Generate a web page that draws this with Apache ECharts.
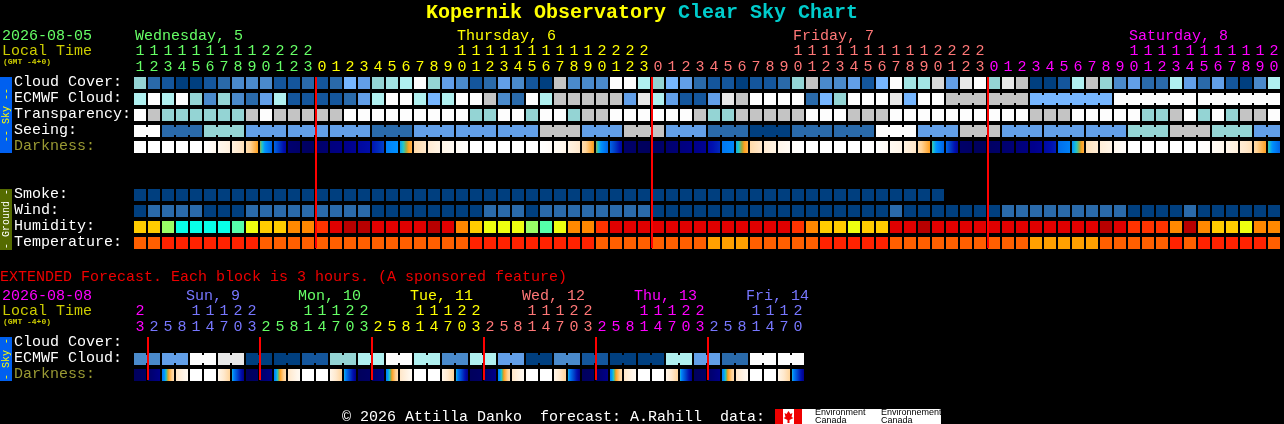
<!DOCTYPE html>
<html>
<head>
<meta charset="utf-8">
<style>html,body{margin:0;padding:0;background:#000;overflow:hidden}#c{width:1284px;height:424px}</style>
<script src="https://cdn.jsdelivr.net/npm/echarts@6/dist/echarts.min.js"></script>
</head>
<body>
<div id="c"></div>
<script>
// ---------- hours ----------
const mainHours = [11,12,13,14,15,16,17,18,19,20,21,22,23,
  0,1,2,3,4,5,6,7,8,9,10,11,12,13,14,15,16,17,18,19,20,21,22,23,
  0,1,2,3,4,5,6,7,8,9,10,11,12,13,14,15,16,17,18,19,20,21,22,23,
  0,1,2,3,4,5,6,7,8,9,10,11,12,13,14,15,16,17,18,19,20];
const extHours = [23,
  2,5,8,11,14,17,20,23, 2,5,8,11,14,17,20,23, 2,5,8,11,14,17,20,23,
  2,5,8,11,14,17,20,23, 2,5,8,11,14,17,20,23, 2,5,8,11,14,17,20];
const mainDayColors = ['#66ff66','#ffff00','#ff7777','#ff00ff'];
const extDayColors = ['#ff00ff','#7777ff','#66ff66','#ffff00','#ff7777','#ff00ff','#7777ff'];
const mainDayLabels = ['Wednesday, 5','Thursday, 6','Friday, 7','Saturday, 8'];
const extDayLabels = ['Sun, 9','Mon, 10','Tue, 11','Wed, 12','Thu, 13','Fri, 14'];
const mainDayLabelCells = [0,23,47,71];
const extDayLabelCells = [3.64,11.64,19.64,27.64,35.64,43.64];
const mainRowNames = ['Cloud Cover:','ECMWF Cloud:','Transparency:','Seeing:','Darkness:','','','Smoke:','Wind:','Humidity:','Temperature:'];
const extRowNames = ['Cloud Cover:','ECMWF Cloud:','Darkness:'];

// ---------- sky level palette ----------
const skyPalette = ['#003f7f','#14569c','#2a6aaa','#4a8acb','#629fe8','#76b6ff','#94d4d4','#a2e4e4','#b0f0f0','#fdfdfd','#e8e8e8','#d8d8d8','#c4c4c4'];

// ---------- main rows ----------
const cloudCover = [6,2,1,0,0,1,2,3,3,3,1,1,2,1,2,5,4,6,7,8,9,6,4,3,1,2,4,3,1,0,12,3,3,3,9,9,8,6,5,4,2,1,1,0,1,1,2,6,12,3,3,4,1,5,9,7,7,11,4,10,9,6,10,12,0,0,1,8,12,6,3,4,2,2,8,4,2,4,1,0,3,8];
const ecmwfCloud = [8,9,8,9,6,3,6,3,2,4,8,1,1,1,1,2,4,8,9,9,8,5,8,9,9,12,3,2,9,8,12,12,12,12,12,4,10,8,4,1,1,4,10,12,9,9,9,9,2,5,6,9,9,9,10,5,9,9,12,12,12,12,12,12,5,5,5,5,5,5,9,9,9,9,9,9,9,9,9,9,9,9];
const ecmwfRunStarts = [58,61,64,70,76];
const ecmwfRunLengths = [3,3,6,6,6];
const transparency = [9,12,6,6,6,6,6,6,12,9,12,12,12,12,12,9,9,9,9,9,9,9,9,9,6,6,9,9,6,9,9,6,12,12,9,9,9,9,9,9,12,6,6,12,12,12,12,12,9,9,9,12,12,12,9,9,9,9,9,9,9,9,9,9,12,12,12,9,9,9,9,9,6,6,12,9,6,9,6,12,12,9];
const seeingBlocks = [9,2,6,4,4,4,2,4,4,4,12,4,12,4,2,0,2,2,9,4,12,4,4,4,6,12,6,4];
const seeingBlockLengths = [2,3,3,3,3,3,3,3,3,3,3,3,3,3,3,3,3,3,3,3,3,3,3,3,3,3,3,2];
const darkStart = [-4,-4,-4,-4,-4,-4,-3.2,-2.6,-1.4,0.05,1.6,5.5,6,5.8,5,4.6,4,3.4,1,0.6,-1.3,-2.2,-2.9,-3.5,-4,-4,-4,-4,-4,-4,-3.5,-2.8,-1.4,0.05,1.6,5.8,6.2,6,5.6,5,4.6,3.8,1.2,0.5,-1.3,-2.2,-3,-3.7,-4,-4,-4,-4,-4,-4,-3.4,-2.7,-1.3,0.2,1.6,5.8,6.3,6,5.6,5.2,4.6,3.9,1.4,0.7,-1.6,-2.4,-3.2,-4,-4,-4,-4,-4,-4,-3.5,-3,-2.3,-1.2,0.2];
const darkEnd = [-4,-4,-4,-4,-4,-3.2,-2.6,-1.6,-0.2,1.6,4,5.8,6.2,5.5,4.8,4.3,3.7,2.5,0.7,-0.5,-2,-2.8,-3.4,-3.9,-4,-4,-4,-4,-4,-3.6,-3,-2,-0.1,1.6,4,5.9,6.3,5.8,5.3,4.7,4.3,3,0.9,-0.5,-2,-2.8,-3.5,-4,-4,-4,-4,-4,-4,-3.5,-2.9,-1.9,-0.2,1.6,4.2,6,6.3,5.8,5.3,4.9,4.3,3.2,1,-0.4,-2.2,-2.9,-3.7,-4,-4,-4,-4,-4,-3.8,-3.1,-2.5,-1.6,-0.2,1.6];
const smoke = [0,0,0,0,0,0,0,0,0,0,0,0,0,0,0,0,0,0,0,0,0,0,0,0,0,0,0,0,0,0,0,0,0,0,0,0,0,0,0,0,0,0,0,0,0,0,0,0,0,0,0,0,0,0,0,0,0,0];
const wind = [0,2,2,2,2,0,0,0,2,2,2,2,2,2,2,2,2,0,0,0,0,0,0,0,0,2,2,2,0,2,2,2,2,2,2,2,2,0,0,0,0,0,0,0,0,0,0,0,0,0,0,0,0,0,2,0,0,0,0,0,0,0,2,2,2,2,2,2,2,2,2,0,0,0,0,2,0,0,0,0,0,0];
const humidityPalette = ['#b80000','#e00000','#ff3300','#ff8800','#ffcc00','#eeff10','#99ff66','#55ffaa','#08ffe8'];
const humidity = [4,4,6,8,8,8,8,7,5,4,4,3,3,2,1,0,0,1,1,1,1,0,1,3,4,5,5,5,6,7,5,3,3,2,1,1,1,1,1,1,1,1,1,1,1,1,1,2,3,4,4,5,4,4,1,1,0,1,1,1,1,1,1,1,1,1,1,1,1,0,1,2,2,2,3,0,3,4,4,5,3,3];
const temperaturePalette = ['#ff2200','#ff5f00','#ffa000'];
const temperature = [1,1,0,0,0,0,0,0,0,1,1,1,1,1,1,1,1,1,1,1,1,1,1,1,0,0,0,0,0,0,0,0,0,1,1,1,1,1,1,1,1,2,2,2,1,1,1,1,1,0,0,0,0,0,1,1,1,1,1,1,1,1,1,1,2,2,2,2,2,1,1,1,1,1,0,1,0,0,0,0,0,1];

// ---------- extended rows ----------
const extEcmwfBlocks = [3,4,9,10,0,0,1,6,8,9,8,3,8,4,0,3,1,0,0,8,4,2,9,9];
const extBlockLengths = [2,2,2,2,2,2,2,2,2,2,2,2,2,2,2,2,2,2,2,2,2,2,2,2];
const extDarkStart = [6.3,5.8,1.2,-1.9,-4,-4,-3,0.4, 6.3,5.8,1.0,-1.9,-4,-4,-3,0.4, 6.3,5.8,1.0,-1.9,-4,-4,-3,0.4, 6.3,5.8,1.0,-1.9,-4,-4,-3,0.4, 6.3,5.8,1.0,-1.9,-4,-4,-3,0.4, 6.3,5.8,1.0,-1.9,-4,-4,-3,0.4];
const extDarkEnd = [6.0,4.6,-1.4,-3.4,-4,-4,-1,4.6, 6.0,4.6,-1.4,-3.4,-4,-4,-1,4.6, 6.0,4.6,-1.4,-3.4,-4,-4,-1,4.6, 6.0,4.6,-1.4,-3.4,-4,-4,-1,4.6, 6.0,4.6,-1.4,-3.4,-4,-4,-1,4.6, 6.0,4.6,-1.4,-3.4,-4,-4,-1,4.6];

// ---------- darkness colour scale (magnitude -> colour) ----------
const darkMags = [-4,-3,-2,-1,-0.2,0,0.3,0.7,1.5,2.5,3.5,4.5,5.5,6.5];
const darkCols = ['#ffffff','#fff6ea','#ffe8cc','#ffd49a','#ffa020','#a8a838','#20c8c8','#0090ff','#0068e8','#0040c8','#0010b0','#00008c','#000070','#000058'];

function hex(c){return [1,3,5].map(i=>parseInt(c.substr(i,2),16));}
function darkColor(m){
  if(m<=darkMags[0])return darkCols[0];
  for(let i=1;i<darkMags.length;i++){
    if(m<=darkMags[i]){
      const t=(m-darkMags[i-1])/(darkMags[i]-darkMags[i-1]);
      const a=hex(darkCols[i-1]),b=hex(darkCols[i]);
      return 'rgb('+a.map((v,k)=>Math.round(v+(b[k]-v)*t)).join(',')+')';
    }
  }
  return darkCols[darkCols.length-1];
}
function darkFill(s,e){
  if(s===e)return darkColor(s);
  const stops=[];
  for(let k=0;k<=10;k++)stops.push({offset:k/10,color:darkColor(s+(e-s)*k/10)});
  return new echarts.graphic.LinearGradient(0,0,1,0,stops);
}
function expand(vals,lens){const o=[];vals.forEach((v,i)=>{for(let k=0;k<lens[i];k++)o.push(v);});return o;}
function joinsFromRuns(starts,lens){const o=[];starts.forEach((s,i)=>{for(let k=0;k<lens[i]-1;k++)o.push(s+k);});return o;}
function joinsFromBlocks(lens){const o=[];let p=0;lens.forEach(l=>{for(let k=0;k<l-1;k++)o.push(p+k);p+=l;});return o;}
function dayIndex(hours){const o=[];let d=0;hours.forEach((h,i)=>{if(i&&h<hours[i-1])d++;o.push(d);});return o;}

// ---------- layout ----------
const FONT='"Liberation Mono"';
const CELL=12, PITCH=14, ROW=16, LEFT=133;

function cellSeries(grid,row,fills,joins){
  const data=fills.map((f,i)=>[i,row]);
  return {type:'custom',xAxisIndex:grid*2,yAxisIndex:grid,silent:true,animation:false,clip:false,
    encode:{x:0,y:1},data,
    renderItem(p,api){
      const c=api.coord([api.value(0),api.value(1)]);
      const i=p.dataIndex, kids=[{type:'rect',shape:{x:c[0]-CELL/2,y:c[1]-CELL/2,width:CELL,height:CELL},style:{fill:fills[i]}}];
      if(joins&&joins.includes(i))kids.push({type:'rect',shape:{x:c[0]+CELL/2,y:c[1]-4,width:PITCH-CELL,height:8},style:{fill:fills[i]}});
      return {type:'group',children:kids};
    }};
}
function lineSeries(grid,cells,firstRow,lastRow){
  return {type:'custom',xAxisIndex:grid*2,yAxisIndex:grid,silent:true,animation:false,clip:false,z:5,
    encode:{x:0},data:cells.map(c=>[c]),
    renderItem(p,api){
      const a=api.coord([api.value(0),firstRow]), b=api.coord([api.value(0),lastRow]);
      return {type:'rect',shape:{x:a[0]-PITCH/2,y:a[1]-CELL/2,width:2,height:b[1]-a[1]+CELL-1},style:{fill:'#ff0000'}};
    }};
}
const mainDays=dayIndex(mainHours), extDays=dayIndex(extHours);
const sky=a=>a.map(v=>skyPalette[v]);
const gridX=(g,hours,days,cols,tens,offset)=>({
  type:'category',gridIndex:g,position:'top',offset,data:hours.map(String),
  axisLine:{show:false},axisTick:{show:false},splitLine:{show:false},
  axisLabel:{interval:0,margin:0,hideOverlap:false,fontFamily:FONT,fontSize:15,
    color:(v,i)=>cols[days[i]],
    formatter:(v)=>tens?(v.length>1?v[0]:''):v[v.length-1]}
});
const gridY=(g,names)=>({
  type:'category',gridIndex:g,inverse:true,data:names,
  axisLine:{show:false},axisTick:{show:false},splitLine:{show:false},
  axisLabel:{interval:0,margin:LEFT-14,align:'left',verticalAlign:'bottom',lineHeight:2,fontFamily:FONT,fontSize:15,
    color:v=>v==='Darkness:'?'#999933':'#ffffff'}
});
function txt(x,y,text,fill,size,weight,family,rot){
  return {type:'text',x,y,rotation:rot||0,silent:true,
    style:{text,fill,font:(weight||'normal')+' '+(size||15)+'px '+(family||FONT),verticalAlign:'middle',textAlign:rot?'center':'left'}};
}
function box(x,y,w,h,fill){return {type:'rect',silent:true,shape:{x,y,width:w,height:h},style:{fill}};}

const graphics=[
  box(0,77,12,76,'#0060f0'),
  txt(6,115,'-- Sky --','#ffff00',10,'normal',null,Math.PI/2),
  box(0,189,12,61,'#556b00'),
  txt(6,219,'- Ground -','#ffffff',10,'normal',null,Math.PI/2),
  box(0,337,12,44,'#0060f0'),
  txt(6,359,'- Sky -','#ffff00',10,'normal',null,Math.PI/2),
  txt(2,36,'2026-08-05',mainDayColors[0]),
  txt(2,51,'Local Time','#cccc00'),
  txt(3,62,'(GMT -4+0)','#cccc00',8,'bold'),
  txt(0,277,'EXTENDED Forecast. Each block is 3 hours. (A sponsored feature)','#ee0000'),
  txt(2,296,'2026-08-08',extDayColors[0]),
  txt(2,311,'Local Time','#cccc00'),
  txt(3,322,'(GMT -4+0)','#cccc00',8,'bold'),
  txt(342,417,'\u00a9 2026 Attilla Danko  forecast: A.Rahill  data:','#ffffff'),
  box(775,409,166,15,'#ffffff'),
  box(775,409,8,15,'#ee0000'),
  box(794,409,8,15,'#ee0000'),
  {type:'polygon',silent:true,shape:{points:[[788.5,411],[790.5,414],[792.5,413],[791.5,417],[793.5,418],[789.5,420],[789.5,423],[787.5,423],[787.5,420],[783.5,418],[785.5,417],[784.5,413],[786.5,414]]},style:{fill:'#ee0000'}},
  txt(815,413,'Environment','#000000',9,'normal','"Liberation Sans"'),
  txt(815,421,'Canada','#000000',9,'normal','"Liberation Sans"'),
  txt(881,413,'Environnement','#000000',9,'normal','"Liberation Sans"'),
  txt(881,421,'Canada','#000000',9,'normal','"Liberation Sans"')
];
mainDayLabels.forEach((t,i)=>graphics.push(txt(LEFT+2+mainDayLabelCells[i]*PITCH,36,t,mainDayColors[i])));
extDayLabels.forEach((t,i)=>graphics.push(txt(LEFT+2+extDayLabelCells[i]*PITCH,296,t,extDayColors[i+1])));

const option={
  backgroundColor:'#000000',animation:false,
  title:{left:'center',top:-2,text:'{a|Kopernik Observatory }{b|Clear Sky Chart}',
    textStyle:{rich:{a:{color:'#ffff00',fontFamily:FONT,fontWeight:'bold',fontSize:20},b:{color:'#00cccc',fontFamily:FONT,fontWeight:'bold',fontSize:20}}}},
  grid:[
    {left:LEFT,top:75,width:PITCH*82,height:ROW*11},
    {left:LEFT,top:335,width:PITCH*48,height:ROW*3}
  ],
  xAxis:[
    gridX(0,mainHours,mainDays,mainDayColors,false,0),
    gridX(0,mainHours,mainDays,mainDayColors,true,16),
    gridX(1,extHours,extDays,extDayColors,false,0),
    gridX(1,extHours,extDays,extDayColors,true,16)
  ],
  yAxis:[gridY(0,mainRowNames),gridY(1,extRowNames)],
  series:[
    cellSeries(0,0,sky(cloudCover)),
    cellSeries(0,1,sky(ecmwfCloud),joinsFromRuns(ecmwfRunStarts,ecmwfRunLengths)),
    cellSeries(0,2,sky(transparency)),
    cellSeries(0,3,sky(expand(seeingBlocks,seeingBlockLengths)),joinsFromBlocks(seeingBlockLengths)),
    cellSeries(0,4,darkStart.map((s,i)=>darkFill(s,darkEnd[i]))),
    cellSeries(0,7,sky(smoke)),
    cellSeries(0,8,sky(wind)),
    cellSeries(0,9,humidity.map(v=>humidityPalette[v])),
    cellSeries(0,10,temperature.map(v=>temperaturePalette[v])),
    lineSeries(0,[13,37,61],0,10),
    cellSeries(1,1,sky(expand(extEcmwfBlocks,extBlockLengths)),joinsFromBlocks(extBlockLengths)),
    cellSeries(1,2,extDarkStart.map((s,i)=>darkFill(s,extDarkEnd[i]))),
    lineSeries(1,[1,9,17,25,33,41],0,2)
  ],
  graphic:graphics
};
const chart=echarts.init(document.getElementById('c'),null,{renderer:'canvas',width:1284,height:424});
chart.setOption(option);
</script>
</body>
</html>
